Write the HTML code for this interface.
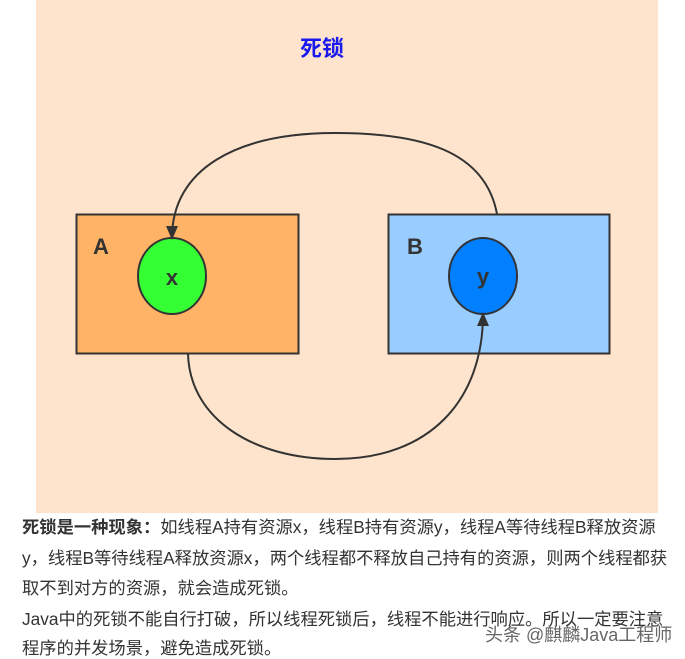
<!DOCTYPE html>
<html><head><meta charset="utf-8"><style>
body{margin:0;width:685px;height:659px;background:#fff;overflow:hidden;position:relative;font-family:"Liberation Sans","Noto Sans CJK SC",sans-serif}
.t{position:absolute;left:22px;font-size:17.3px;color:#333;white-space:nowrap;line-height:20px}
</style></head><body>
<svg width="685" height="515" style="position:absolute;left:0;top:0">
<defs><marker id="ar" markerWidth="14" markerHeight="12" refX="12" refY="6" orient="auto" markerUnits="userSpaceOnUse"><path d="M0,0 L14,6 L0,12 Z" fill="#333"/></marker></defs>
<rect x="36" y="0" width="622" height="513" fill="#fee4cc"/>
<text x="322" y="56" font-size="22" font-weight="bold" fill="#1a1aee" text-anchor="middle" font-family="Noto Sans CJK SC,sans-serif">死锁</text>
<rect x="76.5" y="214.5" width="222" height="139" fill="#ffb366" stroke="#333" stroke-width="2"/>
<rect x="388.5" y="214.5" width="221" height="139" fill="#99ccff" stroke="#333" stroke-width="2"/>
<text x="93" y="254" font-size="22" font-weight="bold" fill="#333">A</text>
<text x="407" y="254" font-size="22" font-weight="bold" fill="#333">B</text>
<ellipse cx="172" cy="276" rx="34" ry="38" fill="#33ff33" stroke="#333" stroke-width="2"/>
<ellipse cx="483" cy="276" rx="34" ry="38" fill="#007fff" stroke="#333" stroke-width="2"/>
<text x="172" y="285" font-size="22" font-weight="bold" fill="#333" text-anchor="middle">x</text>
<text x="483" y="284" font-size="22" font-weight="bold" fill="#333" text-anchor="middle">y</text>
<path d="M497,214 C485,150 420,133 335,133 C235,133 172,170 172,238" fill="none" stroke="#333" stroke-width="2" marker-end="url(#ar)"/>
<path d="M188,354 C190,420 255,459 335,459 C430,459 483,400 483,314" fill="none" stroke="#333" stroke-width="2" marker-end="url(#ar)"/>
</svg>
<div class="t" style="top:517px"><b>死锁是一种现象：</b>如线程A持有资源x，线程B持有资源y，线程A等待线程B释放资源</div>
<div class="t" style="top:548px">y，线程B等待线程A释放资源x，两个线程都不释放自己持有的资源，则两个线程都获</div>
<div class="t" style="top:578px">取不到对方的资源，就会造成死锁。</div>
<div class="t" style="top:609px">Java中的死锁不能自行打破，所以线程死锁后，线程不能进行响应。所以一定要注意</div>
<div class="t" style="top:638px">程序的并发场景，避免造成死锁。</div>
<div style="position:absolute;left:485px;top:621px;font-size:18px;color:#666;white-space:nowrap">头条 @麒麟Java工程师</div>
</body></html>
